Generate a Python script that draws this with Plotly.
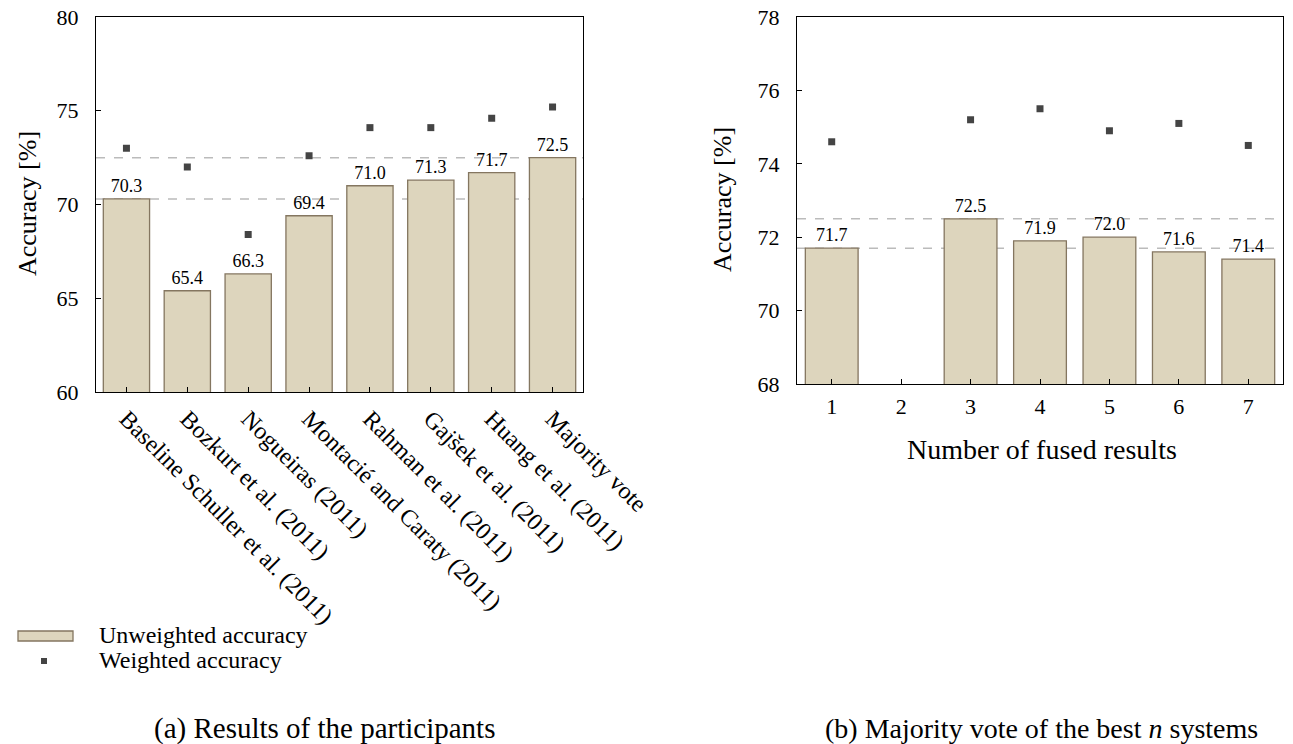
import plotly.graph_objects as go

# ---- data ----
participants = [
    "Baseline Schuller et al. (2011)",
    "Bozkurt et al. (2011)",
    "Nogueiras (2011)",
    "Montacié and Caraty (2011)",
    "Rahman et al. (2011)",
    "Gajšek et al. (2011)",
    "Huang et al. (2011)",
    "Majority vote",
]
unweighted_a = [70.3, 65.4, 66.3, 69.4, 71.0, 71.3, 71.7, 72.5]
weighted_a = [73.0, 72.0, 68.4, 72.6, 74.1, 74.1, 74.6, 75.2]

n_fused = [1, 2, 3, 4, 5, 6, 7]
unweighted_b = [71.7, None, 72.5, 71.9, 72.0, 71.6, 71.4]
weighted_b = [74.6, None, 75.2, 75.5, 74.9, 75.1, 74.5]

# ---- style ----
W, H = 1293, 744
FONT = "Liberation Serif"
BAR_FILL = "#ddd5bd"
BAR_LINE = "#847660"
MARK = "#444444"

def px(x):
    return x / W

def py(y):
    return 1 - y / H

fig = go.Figure()

fig.add_trace(go.Bar(
    x=participants, y=unweighted_a, xaxis="x", yaxis="y",
    marker=dict(color=BAR_FILL, line=dict(color=BAR_LINE, width=1.3)),
    width=0.76,
    text=[f"{v:.1f}" for v in unweighted_a], textposition="outside",
    textfont=dict(family=FONT, size=18, color="black"),
    cliponaxis=False, showlegend=False, name="Unweighted accuracy",
))
fig.add_trace(go.Scatter(
    x=participants, y=weighted_a, xaxis="x", yaxis="y", mode="markers",
    marker=dict(symbol="square", size=7, color=MARK),
    showlegend=False, name="Weighted accuracy",
))

fig.add_trace(go.Bar(
    x=n_fused, y=unweighted_b, xaxis="x2", yaxis="y2",
    marker=dict(color=BAR_FILL, line=dict(color=BAR_LINE, width=1.3)),
    width=0.76,
    text=[f"{v:.1f}" if v is not None else "" for v in unweighted_b],
    textposition="outside",
    textfont=dict(family=FONT, size=18, color="black"),
    cliponaxis=False, showlegend=False, name="Unweighted accuracy",
))
fig.add_trace(go.Scatter(
    x=n_fused, y=weighted_b, xaxis="x2", yaxis="y2", mode="markers",
    marker=dict(symbol="square", size=7, color=MARK),
    showlegend=False, name="Weighted accuracy",
))

axis_common = dict(
    showline=True, linecolor="black", linewidth=1.3, mirror=True,
    showgrid=False, zeroline=False, automargin=False,
    ticks="inside", ticklen=5, tickcolor="black", tickwidth=1,
    tickfont=dict(family=FONT, size=22, color="black"),
)

fig.update_layout(
    template="none",
    width=W, height=H,
    margin=dict(l=0, r=0, t=0, b=0, pad=0, autoexpand=False),
    paper_bgcolor="white", plot_bgcolor="white",
    showlegend=False,
    xaxis=dict(axis_common, domain=[px(96), px(583)], anchor="y",
               type="category", range=[-0.5, 7.5], tickangle=45,
               ticklabelstandoff=2,
               tickfont=dict(family=FONT, size=24, color="black")),
    yaxis=dict(axis_common, domain=[py(392), py(17)], anchor="x",
               range=[60, 80], tickvals=[60, 65, 70, 75, 80],
               ticklabelstandoff=12),
    xaxis2=dict(axis_common, domain=[px(797), px(1283)], anchor="y2",
                range=[0.5, 7.5], tickvals=n_fused, ticklabelstandoff=2),
    yaxis2=dict(axis_common, domain=[py(384), py(17)], anchor="x2",
                range=[68, 78], tickvals=[68, 70, 72, 74, 76, 78],
                ticklabelstandoff=12),
    font=dict(family=FONT, color="black"),
)

# reference dashed lines
dash = dict(color="#bbbbbb", width=1.5, dash="dash")
for yv in [unweighted_a[0], unweighted_a[-1]]:
    fig.add_shape(type="line", xref="x domain", yref="y", x0=0, x1=1,
                  y0=yv, y1=yv, line=dash, layer="below")
for yv in [unweighted_b[0], unweighted_b[2]]:
    fig.add_shape(type="line", xref="x2 domain", yref="y2", x0=0, x1=1,
                  y0=yv, y1=yv, line=dash, layer="below")

def note(text, x, y, size, angle=0, xanchor="center"):
    fig.add_annotation(text=text, xref="paper", yref="paper",
                       x=px(x), y=py(y), xanchor=xanchor, yanchor="middle",
                       textangle=angle, showarrow=False,
                       font=dict(family=FONT, size=size, color="black"))

# axis titles
note("Accuracy [%]", 28, 204, 26, angle=-90)
note("Accuracy [%]", 722, 200, 26, angle=-90)
note("Number of fused results", 1042, 449, 28)

# legend (manual)
fig.add_shape(type="rect", xref="paper", yref="paper",
              x0=px(18), x1=px(73), y0=py(641), y1=py(631),
              fillcolor=BAR_FILL, line=dict(color=BAR_LINE, width=1.3))
fig.add_shape(type="rect", xref="paper", yref="paper",
              x0=px(41), x1=px(47), y0=py(664), y1=py(658),
              fillcolor=MARK, line=dict(width=0))
note("Unweighted accuracy", 97, 635, 24, xanchor="left")
note("Weighted accuracy", 97, 660, 24, xanchor="left")

# captions
note("(a) Results of the participants", 324, 728, 29)
note("(b) Majority vote of the best <i>n</i> systems", 1041, 728, 28)

fig.write_html("out.html",
               config={"displayModeBar": False},
               post_script="document.body.style.margin='0';"
                           "document.body.style.overflow='hidden';")
